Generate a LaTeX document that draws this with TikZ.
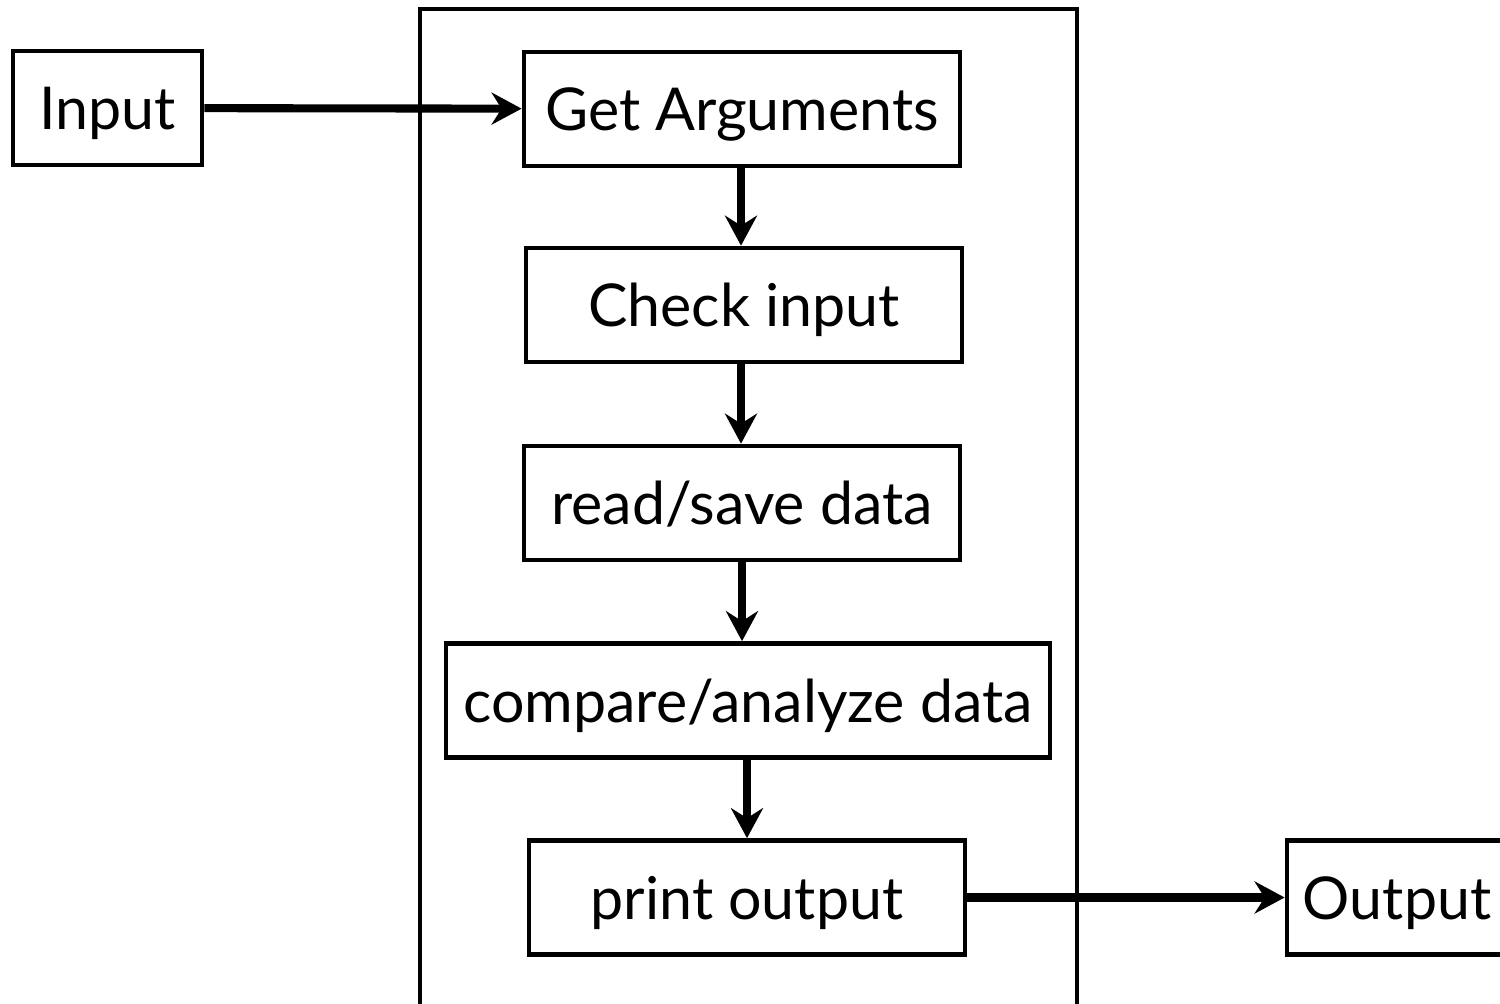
\documentclass[tikz,border=0pt]{standalone}
\usepackage{fontspec}
\setmainfont{Lato}
\usetikzlibrary{arrows.meta}
\tikzset{
  box/.style={draw, line width=1.3pt, inner sep=0pt, minimum height=1.14cm, text height=0.43cm, text depth=0pt, font=\fontsize{16.8}{20}\selectfont},
  flow/.style={line width=2.3pt, -{Stealth[length=0.3cm, width=0.32cm, inset=0.1cm]}}
}
\begin{document}
\begin{tikzpicture}[x=0.01cm, y=-0.01cm]
	\useasboundingbox ( 0, 0 ) rectangle ( 1500, 1003 );
	\clip ( 0, 0 ) rectangle ( 1500, 1003 );

	% program frame, open at the bottom
	\draw [line width=1.3pt] ( 420, 1020 ) -- ( 420, 9 ) -- ( 1077, 9 ) -- ( 1077, 1020 );

	% outside the program
	\node [box, minimum width=1.89cm] (input) at ( 107.5, 108 ) {Input};
	\node [box, minimum width=2.2cm] (output) at ( 1397, 897.5 ) {Output};

	% steps
	\node [box, minimum width=4.36cm] (getargs) at ( 742, 109 ) {Get Arguments};
	\node [box, minimum width=4.36cm] (check) at ( 744, 305 ) {Check input};
	\node [box, minimum width=4.36cm] (readsave) at ( 742, 503 ) {read/save data};
	\node [box, minimum width=6.04cm] (compare) at ( 748, 700.5 ) {compare/analyze data};
	\node [box, minimum width=4.36cm] (printout) at ( 747, 897.5 ) {print output};

	% connections
	\draw [flow] (input) -- (getargs);
	\draw [flow] (getargs.south -| 741, 0) -- (check.north -| 741, 0);
	\draw [flow] (check.south -| 741, 0) -- (readsave.north -| 741, 0);
	\draw [flow] (readsave.south -| 742, 0) -- (compare.north -| 742, 0);
	\draw [flow] (compare.south -| 747, 0) -- (printout.north -| 747, 0);
	\draw [flow] (printout) -- (output);
\end{tikzpicture}
\end{document}
